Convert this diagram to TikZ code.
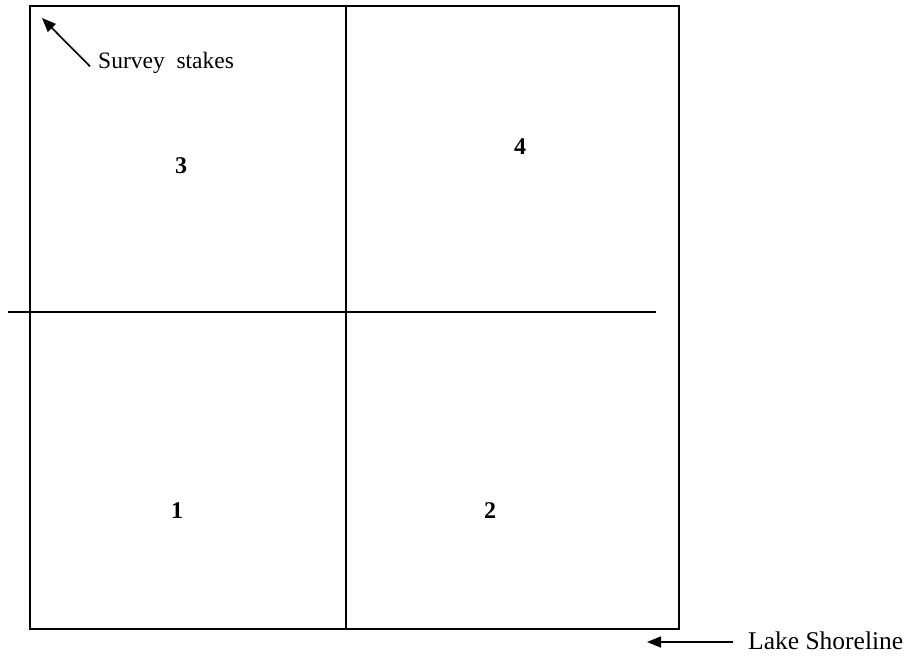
\documentclass[tikz,border=0pt]{standalone}
\usepackage{fontspec}
\setmainfont{Liberation Serif}
\usetikzlibrary{arrows.meta}
\begin{document}
\begin{tikzpicture}[x=1pt,y=-1pt,
  frame/.style={line width=1.6pt,black},
  pointer/.style={line width=1.6pt,-{Triangle[length=14pt,width=11pt]}},
  plotnum/.style={font=\fontsize{24}{28}\selectfont\bfseries,inner sep=0pt},
  lbl/.style={inner sep=0pt,anchor=base west}]
\useasboundingbox (0,0) rectangle (909,656);
% outer frame and divisions
\draw[frame] (30,6) rectangle (679,629);
\draw[frame] (346,6) -- (346,629);
\draw[frame] (8,312) -- (656,312);
% plot numbers
\node[plotnum] (p3) at (181,166) {3};
\node[plotnum] (p4) at (520,147) {4};
\node[plotnum] (p1) at (177,511) {1};
\node[plotnum] (p2) at (490,511) {2};
% labels
\node[lbl,font=\fontsize{23.5}{28}\selectfont] (survey) at (98,68) {Survey\ \ stakes};
\node[lbl,font=\fontsize{25.5}{30}\selectfont] (lake) at (748,649) {Lake Shoreline};
\coordinate (stake) at (42,18);
\coordinate (shore) at (647,642);
\draw[pointer] ([xshift=-8pt,yshift=-4pt]survey.west) -- (stake);
\draw[pointer] ([xshift=-15pt]lake.west |- shore) -- (shore);
\end{tikzpicture}
\end{document}
